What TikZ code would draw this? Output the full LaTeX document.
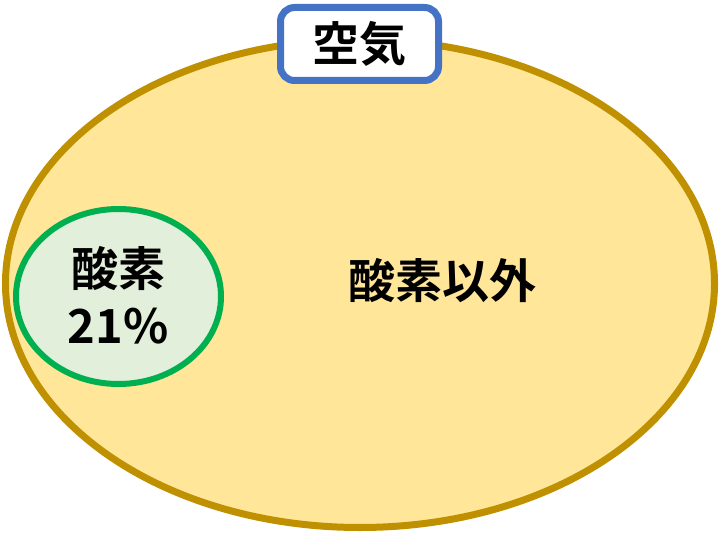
\documentclass[tikz,border=0pt]{standalone}
\usepackage{fontspec}
\setmainfont{Noto Sans CJK JP}[BoldFont={Noto Sans CJK JP Bold}]
\usetikzlibrary{shapes.geometric}
\definecolor{goldline}{HTML}{BF9000}
\definecolor{goldfill}{HTML}{FFE699}
\definecolor{greenline}{HTML}{00B050}
\definecolor{greenfill}{HTML}{E2EFDA}
\definecolor{blueline}{HTML}{4472C4}
\tikzset{
  bigset/.style={ellipse, draw=goldline, fill=goldfill, line width=7pt, inner sep=0pt},
  smallset/.style={ellipse, draw=greenline, fill=greenfill, line width=6pt, inner sep=0pt},
  titlebox/.style={draw=blueline, fill=white, line width=7pt, rounded corners=14pt, inner sep=0pt},
  label/.style={font=\bfseries\fontsize{47}{57}\selectfont, text=black, inner sep=0pt, align=center},
}
\begin{document}
\begin{tikzpicture}[x=1pt,y=1pt]
\useasboundingbox (0,0) rectangle (719,533);
\node[bigset, minimum width=709pt, minimum height=488pt] (air) at (360,249.5) {};
\node[smallset, minimum width=205pt, minimum height=175pt] (oxy) at (118.5,236.5) {};
\node[titlebox, minimum width=158pt, minimum height=73pt] (title) at (359.5,489) {};
\node[label] (titletext) at (title.center) {空気};
\node[label] (other) at (442,252) {酸素以外};
\node[label] (oxytext) at (118,238) {酸素\\21\%};
\end{tikzpicture}
\end{document}
